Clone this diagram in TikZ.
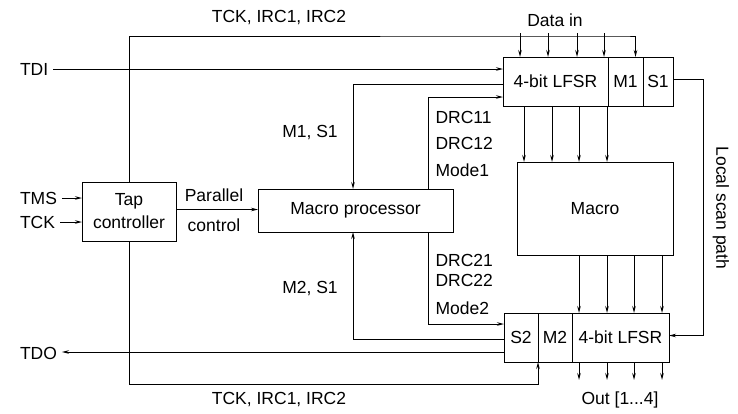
\documentclass[tikz,border=0pt]{standalone}
\usepackage{fontspec}
\setmainfont{Liberation Sans}
\usetikzlibrary{arrows.meta, positioning}

\tikzset{
  box/.style={draw, line width=1pt, inner sep=0pt, outer sep=0pt, minimum height=49pt},
  sig/.style={inner sep=0pt, outer sep=5pt},
  lbl/.style={inner sep=0pt},
}

\begin{document}
\begin{tikzpicture}[x=1pt, y=-1pt, line width=1pt,
    >={Stealth[length=7pt, width=3.5pt]},
    every node/.style={font=\fontsize{17.5}{23}\selectfont}]
  \useasboundingbox (0,0) rectangle (738,413);

  % blocks
  \node[box, minimum width=94pt, minimum height=59pt, align=center] (tap) at (129,211.5) {Tap\\controller};
  \node[box, minimum width=195pt, minimum height=43pt] (mp) at (355.5,210.5) {Macro processor};
  \node[box, minimum width=105pt] (lfsrA) at (555.5,81.5) {4-bit LFSR};
  \node[box, minimum width=35pt, right=0pt of lfsrA] (mA) {M1};
  \node[box, minimum width=30pt, right=0pt of mA] (sA) {S1};
  \node[box, minimum width=156pt, minimum height=93pt] (macro) at (595,208.5) {Macro};
  \node[box, minimum width=34pt] (sB) at (521,337.5) {S2};
  \node[box, minimum width=34pt, right=0pt of sB] (mB) {M2};
  \node[box, minimum width=97pt, right=0pt of mB] (lfsrB) {4-bit LFSR};

  % pins
  \node[sig, anchor=west] (tdi) at (15,69) {TDI};
  \node[sig, anchor=west] (tms) at (15,198) {TMS};
  \node[sig, anchor=west] (tck) at (15,222) {TCK};
  \node[sig, anchor=west] (tdo) at (15,353) {TDO};

  % labels
  \node[lbl] (tcktop) at (279,18) {TCK, IRC1, IRC2};
  \node[lbl] (tckbot) at (279,400) {TCK, IRC1, IRC2};
  \node[lbl] (datain) at (555,20) {Data in};
  \node[lbl] (par) at (214,195) {Parallel};
  \node[lbl] (ctl) at (214,225) {control};
  \node[lbl] (ms1) at (310,133) {M1, S1};
  \node[lbl] (ms2) at (310,289) {M2, S1};
  \node[lbl, anchor=west] (drc11) at (435,117) {DRC11};
  \node[lbl, anchor=west] (drc12) at (435,143) {DRC12};
  \node[lbl, anchor=west] (mode1) at (435,170) {Mode1};
  \node[lbl, anchor=west] (drc21) at (435,260) {DRC21};
  \node[lbl, anchor=west] (drc22) at (435,280) {DRC22};
  \node[lbl, anchor=west] (mode2) at (435,308) {Mode2};
  \node[lbl] (out) at (620,400) {Out [1...4]};
  \node[lbl, rotate=-90] (scanlbl) at (721,208) {Local scan path};

  % inputs to tap controller
  \draw[->] (tms) -- (tms -| tap.west);
  \draw[->] (tck) -- (tck -| tap.west);
  \draw[->] ([yshift=2pt]tap.east) -- ([yshift=2pt]tap.east -| mp.west);

  % TCK, IRC1, IRC2
  \draw[->] (tap.north) |- (0,36 -| mA.north) -- ++(10,0) -- ([xshift=10pt]mA.north);
  \draw[->] (tap.south) |- (0,384 -| mB.south west) -- (mB.south west);

  % TDI, TDO
  \draw[->] (tdi) -- (tdi -| lfsrA.west);
  \draw[->] ([yshift=-14.5pt]sB.west) -- ([yshift=-14.5pt]sB.west -| tdo.east);

  % macro processor links
  \draw[->] ([yshift=-2.5pt]lfsrA.west) -| ([xshift=-2.5pt]mp.north);
  \draw[->] ([xshift=72.5pt]mp.north) |- ([yshift=-15.5pt]lfsrA.west);
  \draw[->] ([yshift=-1.5pt]sB.west) -| ([xshift=-2.5pt]mp.south);
  \draw[->] ([xshift=72.5pt]mp.south) |- ([yshift=13.5pt]sB.west);

  % data paths
  \foreach \x in {520,548,577,604}
    \draw[->] (\x,33) -- (lfsrA.north -| \x,0);
  \foreach \x in {524,552,579,607}
    \draw[->] (lfsrA.south -| \x,0) -- (macro.north -| \x,0);
  \foreach \x in {579,607,634,662} {
    \draw[->] (macro.south -| \x,0) -- (lfsrB.north -| \x,0);
    \draw[->] (lfsrB.south -| \x,0) -- ++(0,18);
  }

  % local scan path
  \draw[->] ([yshift=2pt]sA.east) -- ++(30,0) |- ([yshift=2pt]lfsrB.east);
\end{tikzpicture}
\end{document}
